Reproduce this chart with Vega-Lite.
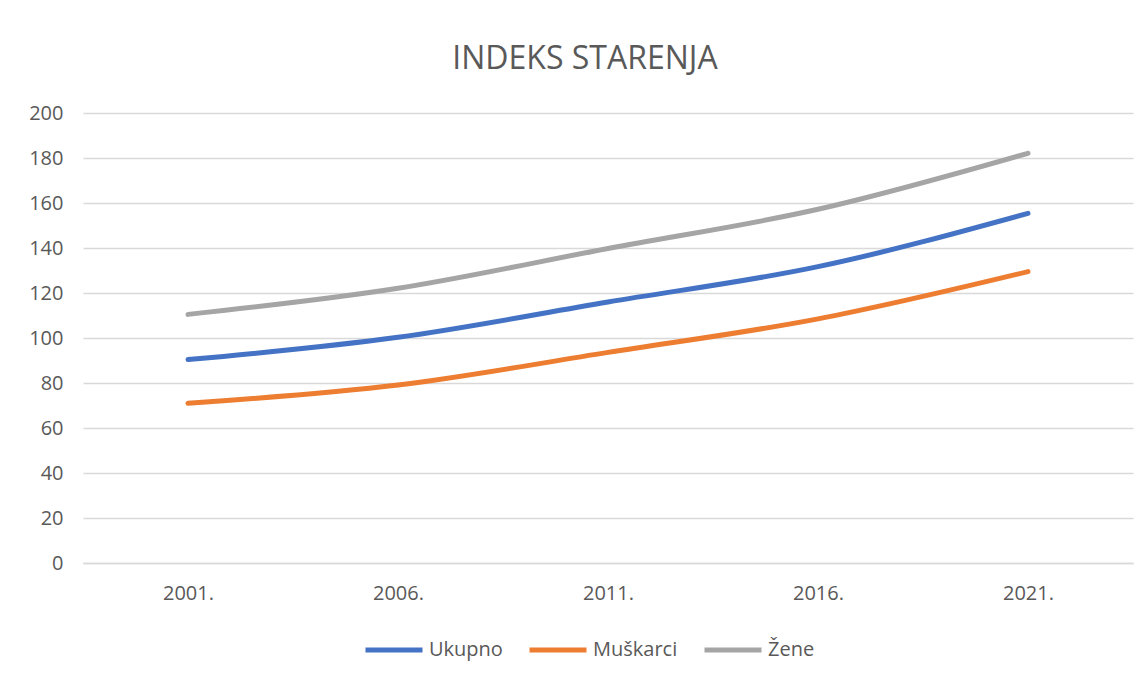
{
  "$schema": "https://vega.github.io/schema/vega-lite/v6.json",
  "width": 1050,
  "height": 450,
  "autosize": "none",
  "padding": {"left": 83, "top": 113, "right": 14, "bottom": 118},
  "background": "white",
  "title": {
    "text": "INDEKS STARENJA",
    "font": "Open Sans",
    "fontSize": 32,
    "fontWeight": "normal",
    "color": "#595959",
    "anchor": "middle",
    "baseline": "alphabetic",
    "offset": 2,
    "dx": -23
  },
  "data": {
    "values": [
      {"godina": "2001.", "serija": "Ukupno", "vrijednost": 90.4},
      {"godina": "2006.", "serija": "Ukupno", "vrijednost": 100.3},
      {"godina": "2011.", "serija": "Ukupno", "vrijednost": 116.0},
      {"godina": "2016.", "serija": "Ukupno", "vrijednost": 131.7},
      {"godina": "2021.", "serija": "Ukupno", "vrijednost": 155.4},
      {"godina": "2001.", "serija": "Muškarci", "vrijednost": 71.0},
      {"godina": "2006.", "serija": "Muškarci", "vrijednost": 79.1},
      {"godina": "2011.", "serija": "Muškarci", "vrijednost": 93.6},
      {"godina": "2016.", "serija": "Muškarci", "vrijednost": 108.5},
      {"godina": "2021.", "serija": "Muškarci", "vrijednost": 129.5},
      {"godina": "2001.", "serija": "Žene", "vrijednost": 110.5},
      {"godina": "2006.", "serija": "Žene", "vrijednost": 122.1},
      {"godina": "2011.", "serija": "Žene", "vrijednost": 139.8},
      {"godina": "2016.", "serija": "Žene", "vrijednost": 157.2},
      {"godina": "2021.", "serija": "Žene", "vrijednost": 182.1}
    ]
  },
  "mark": {"type": "line", "interpolate": "monotone", "strokeWidth": 5, "strokeCap": "round", "strokeJoin": "round"},
  "encoding": {
    "x": {
      "field": "godina",
      "type": "ordinal",
      "sort": null,
      "title": null,
      "axis": {
        "labelAngle": 0,
        "labelFont": "Open Sans",
        "labelFontSize": 20,
        "labelColor": "#595959",
        "labelPadding": 20,
        "ticks": false,
        "domain": true,
        "domainColor": "#D9D9D9",
        "domainWidth": 1.5,
        "grid": false
      }
    },
    "y": {
      "field": "vrijednost",
      "type": "quantitative",
      "title": null,
      "scale": {"domain": [0, 200], "nice": false},
      "axis": {
        "values": [0, 20, 40, 60, 80, 100, 120, 140, 160, 180, 200],
        "labelFont": "Open Sans",
        "labelFontSize": 20,
        "labelColor": "#595959",
        "labelPadding": 20,
        "ticks": false,
        "domain": false,
        "grid": true,
        "gridColor": "#D9D9D9",
        "gridWidth": 1.5
      }
    },
    "color": {
      "field": "serija",
      "type": "nominal",
      "title": null,
      "scale": {
        "domain": ["Ukupno", "Muškarci", "Žene"],
        "range": ["#4472C4", "#ED7D31", "#A5A5A5"]
      },
      "legend": {
        "orient": "none",
        "legendX": 280,
        "legendY": 506,
        "direction": "horizontal",
        "symbolType": "stroke",
        "symbolSize": 3249,
        "symbolStrokeWidth": 5,
        "labelFont": "Open Sans",
        "labelFontSize": 20,
        "labelColor": "#595959",
        "labelOffset": 4,
        "columnPadding": 16
      }
    }
  },
  "config": {
    "view": {"stroke": null}
  }
}
